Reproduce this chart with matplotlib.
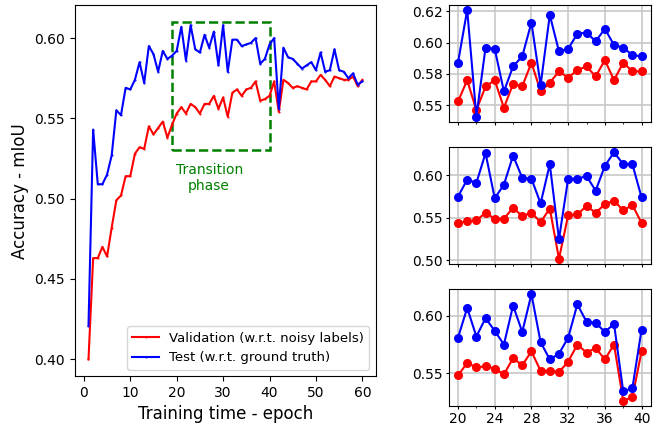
import numpy as np
import matplotlib
matplotlib.use('Agg')
import matplotlib.pyplot as plt
from matplotlib.patches import Rectangle
from matplotlib.ticker import MultipleLocator

# main curve: epochs 1..60
epochs = np.arange(1, 61)
val_main = [0.400, 0.463, 0.463, 0.470, 0.464, 0.482, 0.499, 0.502, 0.514, 0.514,
            0.528, 0.532, 0.531, 0.545, 0.540, 0.544, 0.548, 0.538, 0.546, 0.553,
            0.557, 0.553, 0.559, 0.557, 0.553, 0.559, 0.559, 0.564, 0.556, 0.563,
            0.551, 0.566, 0.568, 0.564, 0.568, 0.569, 0.573, 0.561, 0.562, 0.564,
            0.573, 0.554, 0.574, 0.572, 0.569, 0.570, 0.569, 0.568, 0.573, 0.573,
            0.577, 0.574, 0.570, 0.576, 0.575, 0.574, 0.574, 0.576, 0.570, 0.574]
test_main = [0.421, 0.543, 0.509, 0.509, 0.515, 0.527, 0.555, 0.552, 0.569, 0.568,
             0.574, 0.585, 0.572, 0.595, 0.590, 0.579, 0.592, 0.587, 0.589, 0.592,
             0.607, 0.586, 0.608, 0.593, 0.591, 0.602, 0.594, 0.604, 0.583, 0.608,
             0.579, 0.599, 0.599, 0.595, 0.596, 0.597, 0.600, 0.584, 0.587, 0.596,
             0.600, 0.556, 0.594, 0.588, 0.587, 0.584, 0.581, 0.583, 0.585, 0.580,
             0.591, 0.579, 0.580, 0.593, 0.580, 0.579, 0.575, 0.578, 0.571, 0.573]

# zoomed runs: epochs 20..40
ep_zoom = np.arange(20, 41)
val_a = [0.553, 0.570, 0.546, 0.565, 0.570, 0.548, 0.567, 0.565, 0.584, 0.561, 0.568,
         0.577, 0.572, 0.578, 0.581, 0.573, 0.586, 0.570, 0.584, 0.577, 0.577]
test_a = [0.584, 0.626, 0.541, 0.596, 0.595, 0.561, 0.581, 0.589, 0.616, 0.566, 0.622,
          0.593, 0.595, 0.607, 0.608, 0.601, 0.611, 0.598, 0.596, 0.590, 0.589]
val_b = [0.544, 0.546, 0.547, 0.556, 0.549, 0.549, 0.562, 0.552, 0.556, 0.545, 0.561,
         0.502, 0.553, 0.554, 0.564, 0.556, 0.566, 0.570, 0.559, 0.565, 0.544]
test_b = [0.575, 0.595, 0.591, 0.626, 0.573, 0.589, 0.623, 0.597, 0.596, 0.567, 0.613,
          0.525, 0.596, 0.596, 0.599, 0.582, 0.611, 0.627, 0.613, 0.613, 0.574]
val_c = [0.548, 0.559, 0.555, 0.556, 0.554, 0.549, 0.563, 0.557, 0.569, 0.552, 0.552,
         0.551, 0.560, 0.575, 0.568, 0.572, 0.562, 0.575, 0.526, 0.529, 0.569]
test_c = [0.581, 0.607, 0.582, 0.598, 0.587, 0.575, 0.609, 0.586, 0.619, 0.577, 0.562,
          0.567, 0.581, 0.610, 0.595, 0.594, 0.586, 0.593, 0.534, 0.537, 0.588]

fig = plt.figure(figsize=(6.62, 4.26), dpi=100)

# main plot
ax = fig.add_axes([0.113, 0.117, 0.455, 0.871])
ax.plot(epochs, val_main, color='red', lw=1.5, marker='.', ms=1,
        label='Validation (w.r.t. noisy labels)')
ax.plot(epochs, test_main, color='blue', lw=1.5, marker='.', ms=1,
        label='Test (w.r.t. ground truth)')
ax.add_patch(Rectangle((19, 0.53), 21, 0.08, fill=False, edgecolor='green',
                       ls='--', lw=1.8))
ax.text(27, 0.513, 'Transition\nphase', color='green', ha='center', va='center',
        fontsize=10)
ax.set_xticks([0, 10, 20, 30, 40, 50, 60])
ax.set_yticks([0.40, 0.45, 0.50, 0.55, 0.60])
ax.set_yticklabels(['0.40', '0.45', '0.50', '0.55', '0.60'])
ax.tick_params(labelsize=10)
ax.set_xlabel('Training time - epoch', fontsize=12)
ax.set_ylabel('Accuracy - mIoU', fontsize=12)
ax.legend(loc='lower right', fontsize=9.5)

# side panels
panels = [
    (0.714, val_a, test_a, [0.55, 0.575, 0.60, 0.625], ['0.55', '0.58', '0.60', '0.62']),
    (0.380, val_b, test_b, [0.50, 0.55, 0.60], ['0.50', '0.55', '0.60']),
    (0.047, val_c, test_c, [0.55, 0.60], ['0.55', '0.60']),
]
for i, (bot, v, t, yt, yl) in enumerate(panels):
    a = fig.add_axes([0.678, bot, 0.305, 0.275])
    a.plot(ep_zoom, v, color='red', marker='o', ms=5.5, lw=1.5)
    a.plot(ep_zoom, t, color='blue', marker='o', ms=5.5, lw=1.5)
    a.set_xlim(19, 41)
    a.xaxis.set_major_locator(MultipleLocator(4))
    a.xaxis.set_minor_locator(MultipleLocator(2))
    a.set_yticks(yt)
    a.set_yticklabels(yl)
    a.tick_params(which='major', length=2.5, pad=2, labelsize=10)
    a.tick_params(which='minor', length=1.5)
    a.grid(True, color='#c8c8c8', lw=1.2)
    a.set_axisbelow(True)
    if i < 2:
        a.set_xticklabels([])

fig.savefig('out.png', dpi=100)
